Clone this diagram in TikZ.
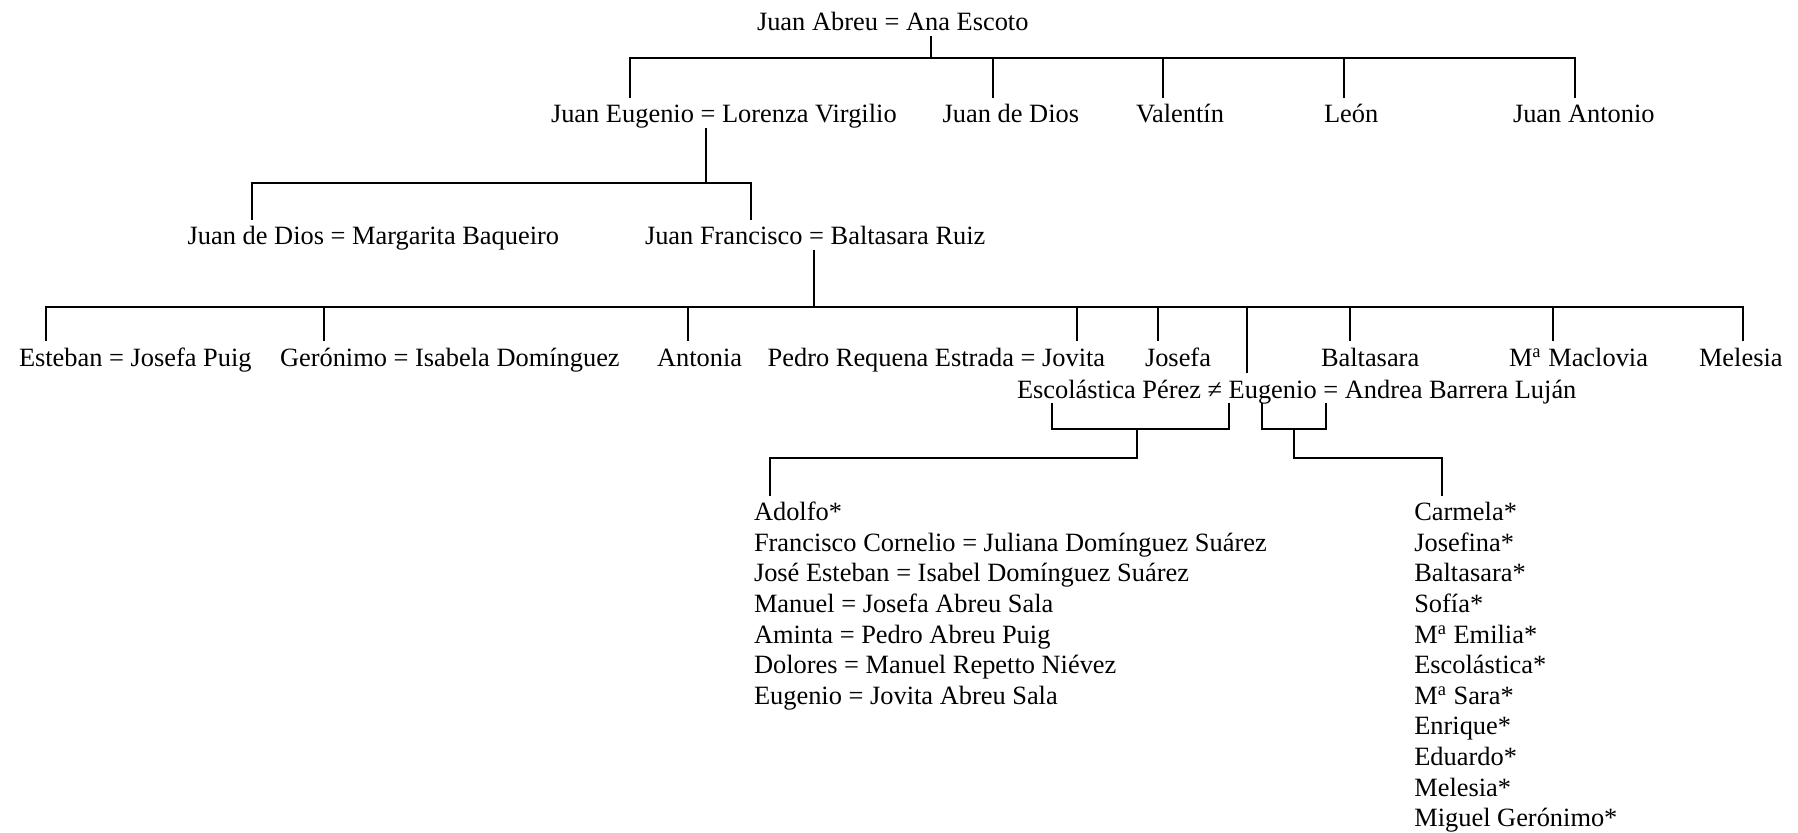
\documentclass[tikz,border=0pt]{standalone}
\usepackage{fontspec}
\setmainfont{Liberation Serif}
\newcommand{\letra}{\fontsize{13.2}{15.3}\selectfont}

\begin{document}
\begin{tikzpicture}[x=0.5pt,y=-0.5pt,line width=1pt,line cap=rect,
    persona/.style={inner sep=0pt,text height=12.5pt,text depth=2.6pt,anchor=base west,font=\letra}]
  \useasboundingbox (0,0) rectangle (1798,833);
  \node[persona] (abreu) at (756,30.7) {Juan Abreu = Ana Escoto};
  \node[persona] (jeugenio) at (550,122.7) {Juan Eugenio = Lorenza Virgilio};
  \node[persona] (jdios) at (941.7,122.7) {Juan de Dios};
  \node[persona] (valentin) at (1135,122.7) {Valentín};
  \node[persona] (leon) at (1323,122.7) {León};
  \node[persona] (jantonio) at (1512,122.7) {Juan Antonio};
  \node[persona] (jdiosm) at (186.7,245) {Juan de Dios = Margarita Baqueiro};
  \node[persona] (jfco) at (644,245) {Juan Francisco = Baltasara Ruiz};
  \node[persona] (esteban) at (18,366.5) {Esteban = Josefa Puig};
  \node[persona] (geronimo) at (279,366.5) {Gerónimo = Isabela Domínguez};
  \node[persona] (antonia) at (656,366.5) {Antonia};
  \node[persona] (pedro) at (766.7,366.5) {Pedro Requena Estrada = Jovita};
  \node[persona] (josefa) at (1144,366.5) {Josefa};
  \node[persona] (baltasara) at (1320,366.5) {Baltasara};
  \node[persona] (maclovia) at (1508,366.5) {M\textsuperscript{a} Maclovia};
  \node[persona] (melesia) at (1698,366.5) {Melesia};
  \node[persona] (eugenio) at (1016,398.3) {Escolástica Pérez ≠ Eugenio = Andrea Barrera Luján};
  \foreach \nombre [count=\i] in {Adolfo*, Francisco Cornelio = Juliana Domínguez Suárez,
      José Esteban = Isabel Domínguez Suárez, Manuel = Josefa Abreu Sala, Aminta = Pedro Abreu Puig,
      Dolores = Manuel Repetto Niévez, Eugenio = Jovita Abreu Sala}
    \node[persona] (hA\i) at (753,{520.7+30.6*(\i-1)}) {\nombre};
  \foreach \nombre [count=\i] in {Carmela*, Josefina*, Baltasara*, Sofía*, M\textsuperscript{a} Emilia*,
      Escolástica*, M\textsuperscript{a} Sara*, Enrique*, Eduardo*, Melesia*, Miguel Gerónimo*}
    \node[persona] (hB\i) at (1413.3,{520.7+30.6*(\i-1)}) {\nombre};

  \coordinate (b0) at (930.7,58);
  \coordinate (b1) at (706,183.3);
  \coordinate (b2) at (814.3,306.7);
  \draw (abreu.south -| b0) -- (b0);
  \foreach \x/\n in {630/jeugenio,992.7/jdios,1163/valentin,1344/leon,1575/jantonio}{
    \coordinate (h-\n) at (\x,58);
    \draw (h-\n) -- (h-\n |- \n.north);}
  \draw (h-jeugenio) -- (h-jantonio);
  \draw (jeugenio.south -| b1) -- (b1);
  \foreach \x/\n in {252/jdiosm,750.7/jfco}{
    \coordinate (h-\n) at (\x,183.3);
    \draw (h-\n) -- (h-\n |- \n.north);}
  \draw (h-jdiosm) -- (h-jfco);
  \draw (jfco.south -| b2) -- (b2);
  \foreach \x/\n in {45.7/esteban,324/geronimo,688/antonia,1076.7/pedro,1158.3/josefa,
      1246.7/eugenio,1350/baltasara,1552.6/maclovia,1743/melesia}{
    \coordinate (h-\n) at (\x,306.7);
    \draw (h-\n) -- (h-\n |- \n.north);}
  \draw (h-esteban) -- (h-melesia);

  \coordinate (e1) at (1051.7,429.3);
  \coordinate (e2) at (1228.7,429.3);
  \coordinate (e3) at (1262,429.3);
  \coordinate (e4) at (1326,429.3);
  \draw (eugenio.south -| e1) -- (e1) -- (e2) -- (eugenio.south -| e2);
  \draw (eugenio.south -| e3) -- (e3) -- (e4) -- (eugenio.south -| e4);
  \coordinate (m1) at (1136.7,429.3);
  \coordinate (m2) at (1294,429.3);
  \coordinate (c1) at (770,457.7);
  \coordinate (c2) at (1442.3,457.7);
  \draw (m1) |- (c1) -- (c1 |- hA1.north);
  \draw (m2) |- (c2) -- (c2 |- hB1.north);
\end{tikzpicture}
\end{document}
